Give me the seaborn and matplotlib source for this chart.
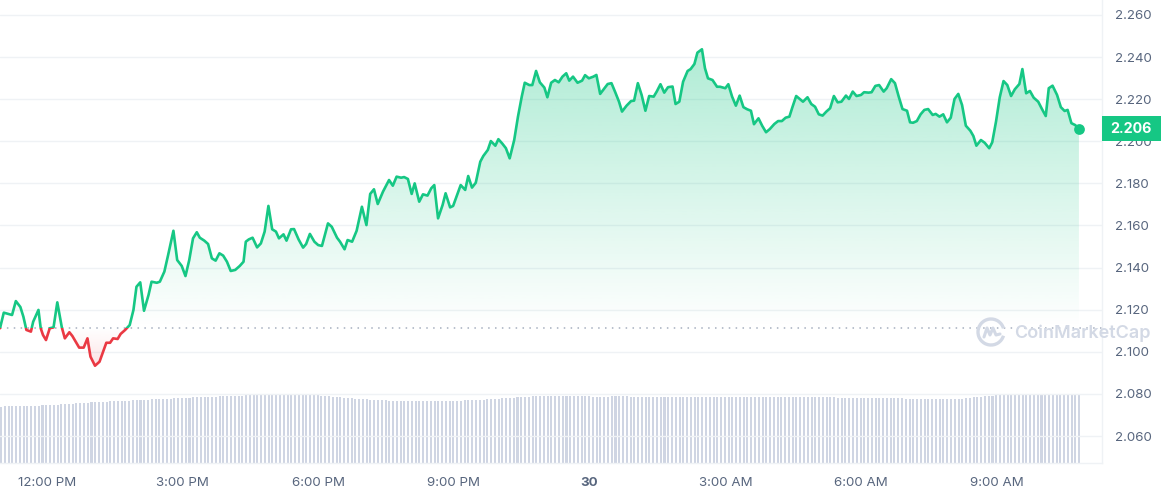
import numpy as np
import pandas as pd
import matplotlib
matplotlib.use("Agg")
import matplotlib.pyplot as plt
import matplotlib.dates as mdates
from matplotlib.colors import to_rgb
from matplotlib.patches import PathPatch, Rectangle, Arc
from matplotlib.path import Path
from matplotlib.lines import Line2D
from matplotlib.transforms import blended_transform_factory
import seaborn as sns

# --- datos (precio cada ~5 min) ---
start = "2024-04-29 10:58"

minutes = [
    0, 5, 16, 21, 27, 31, 35, 41, 44, 51,
    54, 57, 61, 66, 71, 76, 82, 86, 92, 96,
    105, 111, 116, 120, 126, 132, 141, 146, 150, 156,
    160, 166, 172, 177, 181, 186, 191, 197, 201, 208,
    212, 218, 223, 230, 235, 241, 246, 251, 256, 261,
    265, 271, 276, 281, 286, 291, 296, 301, 306, 312,
    318, 323, 326, 330, 335, 341, 346, 351, 356, 361,
    366, 370, 376, 380, 386, 390, 396, 402, 406, 411,
    417, 422, 427, 435, 440, 447, 451, 457, 461, 467,
    473, 480, 486, 491, 496, 501, 508, 516, 521, 526,
    532, 536, 541, 546, 550, 556, 561, 567, 572, 576,
    581, 587, 591, 597, 601, 607, 611, 617, 621, 626,
    631, 637, 641, 647, 651, 657, 661, 666, 671, 676,
    682, 687, 692, 696, 702, 706, 711, 716, 722, 726,
    731, 736, 741, 746, 751, 755, 760, 766, 772, 776,
    781, 787, 791, 796, 800, 806, 811, 816, 821, 825,
    831, 837, 841, 846, 851, 856, 861, 867, 871, 876,
    881, 886, 892, 896, 901, 906, 912, 916, 921, 925,
    931, 935, 939, 945, 951, 955, 962, 966, 971, 976,
    981, 986, 991, 996, 1000, 1006, 1011, 1016, 1021, 1027,
    1032, 1037, 1042, 1047, 1051, 1056, 1061, 1065, 1071, 1076,
    1081, 1086, 1091, 1096, 1101, 1106, 1111, 1116, 1122, 1126,
    1131, 1136, 1142, 1146, 1152, 1156, 1161, 1166, 1172, 1176,
    1182, 1187, 1192, 1197, 1203, 1207, 1211, 1216, 1221, 1226,
    1231, 1237, 1241, 1246, 1251, 1256, 1261, 1266, 1271, 1276,
    1281, 1287, 1291, 1295, 1301, 1306, 1312, 1316, 1321, 1326,
    1331, 1336, 1341, 1346, 1352, 1356, 1361, 1366, 1371, 1377,
    1382, 1387, 1391, 1396, 1402, 1407, 1412, 1416, 1421, 1426, 1431,
]

price = [
    2.1112, 2.1186, 2.1175, 2.1241, 2.1213, 2.1167, 2.1104, 2.1096, 2.1143, 2.1199,
    2.1112, 2.1080, 2.1056, 2.1112, 2.1116, 2.1235, 2.1116, 2.1064, 2.1093, 2.1075,
    2.1020, 2.1020, 2.1064, 2.0977, 2.0934, 2.0953, 2.1043, 2.1043, 2.1064, 2.1061,
    2.1085, 2.1104, 2.1127, 2.1199, 2.1309, 2.1330, 2.1195, 2.1270, 2.1333, 2.1328,
    2.1333, 2.1381, 2.1460, 2.1575, 2.1436, 2.1408, 2.1360, 2.1436, 2.1539, 2.1568,
    2.1542, 2.1528, 2.1512, 2.1444, 2.1433, 2.1468, 2.1457, 2.1428, 2.1384, 2.1389,
    2.1408, 2.1428, 2.1523, 2.1534, 2.1542, 2.1496, 2.1515, 2.1571, 2.1693, 2.1582,
    2.1571, 2.1539, 2.1558, 2.1528, 2.1582, 2.1583, 2.1534, 2.1495, 2.1512, 2.1560,
    2.1523, 2.1507, 2.1503, 2.1610, 2.1594, 2.1542, 2.1523, 2.1487, 2.1531, 2.1523,
    2.1575, 2.1689, 2.1602, 2.1750, 2.1772, 2.1702, 2.1761, 2.1816, 2.1789, 2.1832,
    2.1827, 2.1830, 2.1821, 2.1750, 2.1800, 2.1713, 2.1748, 2.1742, 2.1777, 2.1792,
    2.1634, 2.1697, 2.1753, 2.1686, 2.1693, 2.1753, 2.1792, 2.1769, 2.1835, 2.1780,
    2.1803, 2.1903, 2.1930, 2.1959, 2.2001, 2.1979, 2.2010, 2.1990, 2.1967, 2.1919,
    2.2006, 2.2117, 2.2212, 2.2278, 2.2267, 2.2267, 2.2334, 2.2280, 2.2255, 2.2209,
    2.2278, 2.2291, 2.2280, 2.2307, 2.2323, 2.2288, 2.2307, 2.2278, 2.2288, 2.2314,
    2.2299, 2.2307, 2.2315, 2.2225, 2.2244, 2.2272, 2.2276, 2.2233, 2.2188, 2.2141,
    2.2169, 2.2191, 2.2193, 2.2276, 2.2220, 2.2145, 2.2215, 2.2212, 2.2236, 2.2271,
    2.2231, 2.2257, 2.2260, 2.2177, 2.2188, 2.2283, 2.2334, 2.2343, 2.2367, 2.2421,
    2.2437, 2.2347, 2.2299, 2.2291, 2.2259, 2.2259, 2.2252, 2.2271, 2.2212, 2.2169,
    2.2217, 2.2162, 2.2152, 2.2145, 2.2081, 2.2109, 2.2073, 2.2043, 2.2058, 2.2082,
    2.2096, 2.2096, 2.2112, 2.2117, 2.2162, 2.2215, 2.2200, 2.2188, 2.2209, 2.2177,
    2.2164, 2.2128, 2.2122, 2.2141, 2.2157, 2.2215, 2.2185, 2.2188, 2.2217, 2.2201,
    2.2236, 2.2215, 2.2220, 2.2233, 2.2231, 2.2233, 2.2263, 2.2267, 2.2236, 2.2252,
    2.2295, 2.2276, 2.2212, 2.2153, 2.2145, 2.2090, 2.2088, 2.2096, 2.2128, 2.2149,
    2.2153, 2.2125, 2.2130, 2.2117, 2.2128, 2.2090, 2.2112, 2.2201, 2.2225, 2.2172,
    2.2074, 2.2050, 2.2025, 2.1979, 2.2006, 2.1993, 2.1967, 2.1995, 2.2093, 2.2209,
    2.2286, 2.2267, 2.2215, 2.2247, 2.2272, 2.2343, 2.2228, 2.2239, 2.2207, 2.2188,
    2.2153, 2.2120, 2.2252, 2.2264, 2.2220, 2.2162, 2.2144, 2.2149, 2.2086, 2.2077, 2.2060,
]

# volumen (millones), una barra cada 5 minutos, filas de una hora
volume = [
    565, 570, 570, 570, 570, 570, 570, 575, 575, 575, 575, 580,
    580, 580, 585, 585, 590, 590, 595, 595, 600, 600, 605, 605,
    610, 610, 615, 615, 615, 620, 620, 620, 620, 625, 625, 630,
    630, 630, 635, 635, 640, 640, 640, 645, 645, 645, 650, 650,
    650, 655, 655, 660, 660, 660, 660, 665, 665, 665, 670, 670,
    670, 670, 675, 675, 675, 680, 680, 680, 685, 685, 685, 690,
    690, 690, 690, 690, 690, 690, 690, 690, 685, 690, 690, 685,
    680, 675, 675, 670, 665, 660, 660, 655, 650, 650, 645, 645,
    640, 640, 635, 635, 630, 630, 630, 625, 625, 625, 625, 625,
    620, 620, 620, 620, 620, 620, 620, 620, 620, 620, 625, 625,
    625, 625, 625, 630, 630, 630, 630, 635, 635, 640, 640, 645,
    645, 650, 650, 655, 655, 660, 660, 665, 665, 670, 670, 670,
    670, 670, 670, 670, 670, 670, 670, 670, 670, 670, 670, 670,
    670, 665, 665, 665, 665, 665, 670, 670, 670, 670, 670, 665,
    665, 665, 665, 665, 665, 665, 665, 660, 660, 660, 660, 660,
    660, 660, 660, 665, 665, 665, 665, 665, 665, 665, 665, 665,
    665, 665, 665, 665, 665, 665, 660, 660, 660, 660, 660, 660,
    660, 660, 660, 660, 660, 660, 660, 660, 660, 660, 660, 660,
    660, 660, 660, 660, 660, 660, 655, 655, 655, 655, 655, 655,
    655, 655, 655, 650, 650, 650, 650, 650, 650, 650, 650, 650,
    645, 645, 645, 645, 645, 645, 640, 640, 640, 640, 640, 640,
    640, 640, 645, 645, 650, 655, 660, 665, 665, 670, 670, 675,
    680, 685, 690, 695, 695, 695, 695, 695, 695, 695, 695, 695,
    695, 695, 695, 695, 695, 695, 695, 695, 695, 695, 695,
]

tick_times = [
    "2024-04-29 12:00", "2024-04-29 15:00", "2024-04-29 18:00", "2024-04-29 21:00",
    "2024-04-30 00:00", "2024-04-30 03:00", "2024-04-30 06:00", "2024-04-30 09:00",
]
tick_labels = ["12:00 PM", "3:00 PM", "6:00 PM", "9:00 PM", "30", "3:00 AM", "6:00 AM", "9:00 AM"]
y_ticks = [2.06, 2.08, 2.10, 2.12, 2.14, 2.16, 2.18, 2.20, 2.22, 2.24, 2.26]

GREEN = "#16c784"
RED = "#ea3943"
BAR = "#cfd5e3"
GRID = "#eff2f5"
TEXT = "#58667e"
WATERMARK = "#d3d9e5"


def gradient_fill(ax, xs, ys, base, color, alpha_far, above=True):
    """Relleno con degradado entre la serie y la linea base."""
    mask = ys >= base if above else ys <= base
    coll = ax.fill_between(xs, ys, base, where=mask, interpolate=True,
                           facecolor="none", edgecolor="none")
    path = Path.make_compound_path(*coll.get_paths())
    clip = PathPatch(path, transform=ax.transData, facecolor="none", edgecolor="none")
    ax.add_patch(clip)
    lo, hi = (base, ys.max()) if above else (ys.min(), base)
    rgba = np.zeros((256, 1, 4))
    rgba[..., :3] = to_rgb(color)
    ramp = np.linspace(0, 1, 256)
    rgba[:, 0, 3] = (ramp if above else ramp[::-1]) * alpha_far
    im = ax.imshow(rgba, extent=[xs[0], xs[-1], lo, hi], origin="lower",
                   aspect="auto", interpolation="bilinear", zorder=1)
    im.set_clip_path(clip)


sns.set_theme(style="white")
plt.rcParams["font.family"] = ["Inter", "DejaVu Sans"]

df = pd.DataFrame({
    "time": pd.Timestamp(start) + pd.to_timedelta(minutes, unit="min"),
    "price": price,
})
vol = pd.DataFrame({
    "time": pd.date_range(start, periods=len(volume), freq="5min"),
    "volume": volume,
})
xs = mdates.date2num(df["time"])
ys = df["price"].to_numpy()
base = ys[0]
last = ys[-1]

fig = plt.figure(figsize=(11.61, 4.95), dpi=100, facecolor="white")
rect = [0, 32 / 495, 1102 / 1161, 463 / 495]
axv = fig.add_axes(rect)
ax = fig.add_axes(rect, sharex=axv)
ax.patch.set_visible(False)

# volumen abajo
axv.bar(mdates.date2num(vol["time"]), vol["volume"], width=2.7 / 1440, color=BAR,
        linewidth=0, align="edge")
axv.set_ylim(0, 4630)
axv.axis("off")

# rellenos y linea de precio
gradient_fill(ax, xs, ys, base, GREEN, 0.34, above=True)
gradient_fill(ax, xs, ys, base, RED, 0.14, above=False)
ax.axhline(base, color="#a6afbf", lw=1.1, ls=(0, (1, 3.5)), zorder=2)

for color, y0, h in [(GREEN, base, 1.0), (RED, base - 1.0, 1.0)]:
    sns.lineplot(data=df, x="time", y="price", ax=ax, color=color, lw=1.9, zorder=3)
    line = ax.lines[-1]
    clip_rect = Rectangle((xs[0] - 5, y0), 20, h, transform=ax.transData)
    line.set_clip_path(clip_rect)
    line.set_solid_joinstyle("round")

ax.scatter([xs[-1]], [last], s=60, color=GREEN, zorder=5, linewidths=0)

ax.set_xlim(xs[0], xs[0] + 1461.6 / 1440)
ax.set_ylim(2.0472, 2.2671)
ax.set_xlabel("")
ax.set_ylabel("")

ax.yaxis.tick_right()
ax.set_yticks(y_ticks)
ax.set_yticklabels([f"{v:.3f}" for v in y_ticks])
ax.set_xticks(mdates.date2num(pd.to_datetime(tick_times)))
ax.set_xticklabels(tick_labels)
for lab in ax.get_xticklabels():
    if lab.get_text() == "30":
        lab.set_fontweight("bold")
        lab.set_color("#222531")
ax.tick_params(axis="y", length=0, pad=9, labelsize=9.6, labelcolor=TEXT)
ax.tick_params(axis="x", length=4, width=1, color=GRID, pad=6, labelsize=9.6,
               labelcolor=TEXT)
ax.grid(axis="y", color=GRID, lw=1)
ax.grid(axis="x", visible=False)
ax.set_axisbelow(True)
for side in ["left", "top"]:
    ax.spines[side].set_visible(False)
for side in ["right", "bottom"]:
    ax.spines[side].set_color(GRID)
    ax.spines[side].set_linewidth(1)

# etiqueta del ultimo precio
blend = blended_transform_factory(ax.transAxes, ax.transData)
box_h = 25 / 2105
ax.add_patch(Rectangle((1.0, last - box_h / 2), 0.1, box_h, transform=blend,
                       facecolor=GREEN, edgecolor="none", clip_on=False, zorder=6))
ax.text(1131 / 1102, last, f"{last:.3f}", transform=blend, ha="center", va="center",
        color="white", fontsize=10.3, fontweight="bold", zorder=7, clip_on=False)

# marca de agua
fig.text(1014 / 1161, 1 - 333 / 495, "CoinMarketCap", ha="left", va="center",
         fontsize=13.0, fontweight="semibold", color=WATERMARK, zorder=10)
cx, cy = 991 / 1161, 1 - 332 / 495
fig.add_artist(Arc((cx, cy), 26 / 1161, 26 / 495, theta1=35, theta2=325,
                   transform=fig.transFigure, color=WATERMARK, lw=2.4, zorder=10))
wave_x = [-7, -4, -1, 2, 5, 9]
wave_y = [5, -4, 3, -4, 3, 2]
fig.add_artist(Line2D([(991 + dx) / 1161 for dx in wave_x],
                      [1 - (332 + dy) / 495 for dy in wave_y],
                      transform=fig.transFigure, color=WATERMARK, lw=2.2,
                      solid_joinstyle="round", zorder=10))

fig.savefig("out.png", dpi=100, facecolor="white")
plt.close(fig)
